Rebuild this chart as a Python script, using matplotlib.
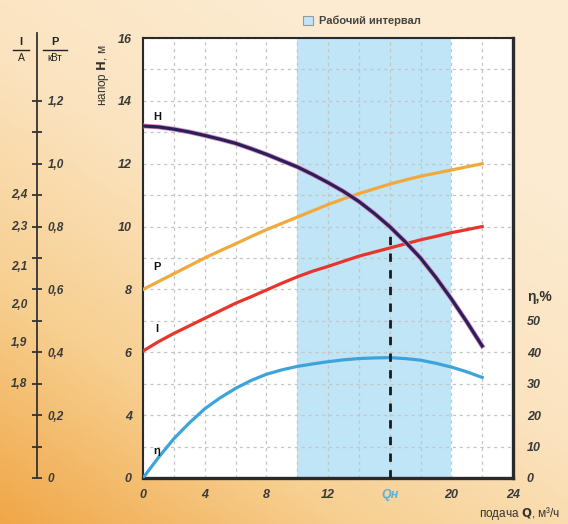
import numpy as np
import matplotlib
matplotlib.use('Agg')
import matplotlib.pyplot as plt
import matplotlib.patheffects as pe
from matplotlib.patches import Patch
from matplotlib.lines import Line2D
from matplotlib.colors import LinearSegmentedColormap

plt.rcParams['font.family'] = ['Liberation Sans', 'DejaVu Sans']

# подача Q, м3/ч
Q = list(range(0, 23))
# напор H, м
H = [13.2, 13.17, 13.1, 13.01, 12.9, 12.78, 12.65, 12.48, 12.3, 12.1, 11.9, 11.66,
     11.4, 11.12, 10.8, 10.42, 10.0, 9.52, 9.0, 8.38, 7.7, 6.97, 6.2]
# мощность P, кВт
P = [0.60, 0.625, 0.65, 0.675, 0.70, 0.723, 0.745, 0.768, 0.79, 0.81, 0.83, 0.85,
     0.87, 0.888, 0.905, 0.92, 0.935, 0.948, 0.96, 0.97, 0.98, 0.99, 1.00]
# ток I, А
I = [1.88, 1.903, 1.925, 1.945, 1.965, 1.985, 2.005, 2.022, 2.04, 2.058, 2.075, 2.09,
     2.105, 2.13, 2.155, 2.175, 2.195, 2.215, 2.235, 2.252, 2.27, 2.285, 2.30]
# КПД, %
eta = [0, 6.5, 12.5, 17.5, 22, 25.5, 28.5, 31, 33, 34.4, 35.5, 36.3,
       37, 37.6, 38, 38.2, 38.3, 38, 37.5, 36.5, 35.3, 33.8, 32]

Q_nom = 16
work_range = (10, 20)

# шкала тока нанесена неравномерно, положение меток в единицах шкалы P
I_ticks = [1.8, 1.9, 2.0, 2.1, 2.3, 2.4]
I_pos = [0.30, 0.43, 0.55, 0.67, 0.80, 0.90]

W, Hpx = 568, 524
fig = plt.figure(figsize=(W / 100, Hpx / 100), dpi=100)

# фон
bg = fig.add_axes([0, 0, 1, 1], zorder=-10)
yy, xx = np.mgrid[0:1:200j, 0:1:200j]
grad = np.clip(0.55 * xx + 0.75 * yy, 0, 1)
cmap = LinearSegmentedColormap.from_list('bg', ['#f0a748', '#f7cf90', '#fbe3bf', '#fcebd0'])
bg.imshow(grad, cmap=cmap, origin='lower', aspect='auto', extent=[0, 1, 0, 1])
bg.axis('off')

txt_col = '#3a3a3a'

# основная область
ax = fig.add_axes([143 / W, 46 / Hpx, 370 / W, 440 / Hpx])
ax.set_facecolor('white')
ax.set_xlim(0, 24)
ax.set_ylim(2, 16)
ax.axvspan(*work_range, color='#bfe5f6', zorder=0, lw=0)

ax.set_xticks(range(0, 25, 4))
ax.set_xticks(range(0, 25, 2), minor=True)
ax.set_xticklabels(['0', '4', '8', '12', 'Qн', '20', '24'])
ax.set_yticks(range(2, 17, 2))
ax.set_yticks(range(2, 17, 1), minor=True)
ax.set_yticklabels(['0', '4', '6', '8', '10', '12', '14', '16'])
ax.tick_params(which='both', length=0)
ax.tick_params(axis='x', pad=8, labelsize=9, labelcolor=txt_col)
ax.tick_params(axis='y', pad=8, labelsize=9, labelcolor=txt_col)
for t in ax.get_xticklabels() + ax.get_yticklabels():
    t.set_fontstyle('italic')
    t.set_fontweight('bold')
ax.get_xticklabels()[4].set_color('#5aaee0')
ax.grid(which='both', color='#c4c4c4', lw=0.9, ls=(0, (2.5, 3)))
ax.set_axisbelow(True)
for s in ['left', 'top']:
    ax.spines[s].set_linewidth(1.5)
    ax.spines[s].set_color('#2a2a2a')
for s in ['right', 'bottom']:
    ax.spines[s].set_linewidth(2.4)
    ax.spines[s].set_color('#2a2a2a')

# P и I
ax_p = ax.twinx()
ax_p.set_ylim(0, 1.4)
ax_p.axis('off')
ax_p.plot(Q, P, color='#f2a93b', lw=2.3)
ax_p.plot(Q, np.interp(I, I_ticks, I_pos), color='#e8352b', lw=2.3)

# КПД
ax_e = ax.twinx()
ax_e.set_ylim(0, 140)
ax_e.plot(Q, eta, color='#3ea3db', lw=2.3)
ax_e.set_yticks(range(0, 51, 10))
ax_e.tick_params(length=0, pad=10, labelsize=9, labelcolor=txt_col)
for t in ax_e.get_yticklabels():
    t.set_fontstyle('italic')
    t.set_fontweight('bold')
for s in ax_e.spines.values():
    s.set_visible(False)

# напор
ax_h = ax.twinx()
ax_h.set_ylim(2, 16)
ax_h.axis('off')
ax_h.plot([Q_nom, Q_nom], [2, np.interp(Q_nom, Q, H)], color='#1a1a1a', lw=2, ls=(0, (3, 3)))
ax_h.plot(Q, H, color='#28205a', lw=2.3,
          path_effects=[pe.Stroke(linewidth=3.5, foreground='#d98ab8'), pe.Normal()])

for lbl, yv in [('H', 13.5), ('P', 8.7), ('I', 6.75), ('η', 2.85)]:
    ax_h.text(0.9, yv, lbl, fontsize=8, fontweight='bold', color='#111111',
              ha='center', va='center')

# шкала P / I
ax_l = fig.add_axes([37 / W, 46 / Hpx, 0.0001, 445 / Hpx])
ax_l.set_facecolor('none')
ax_l.set_ylim(0, 1.4 * 445 / 440)
for s in ['right', 'top', 'bottom']:
    ax_l.spines[s].set_visible(False)
ax_l.spines['left'].set_color('#333333')
ax_l.spines['left'].set_linewidth(1.3)
ax_l.set_xticks([])
ax_l.set_yticks(np.arange(0, 1.21, 0.2))
ax_l.set_yticks(np.arange(0.1, 1.2, 0.2), minor=True)
ax_l.set_yticklabels(['0', '0,2', '0,4', '0,6', '0,8', '1,0', '1,2'])
ax_l.tick_params(which='both', direction='inout', length=7, width=1.3, color='#333333',
                 left=True, right=False, labelleft=False, labelright=True,
                 pad=4, labelsize=8.5, labelcolor=txt_col)
for t in ax_l.get_yticklabels():
    t.set_fontstyle('italic')
    t.set_fontweight('bold')
for v, pos in zip(I_ticks, I_pos):
    ax_l.annotate(f'{v:.1f}'.replace('.', ','), xy=(0, pos), xycoords=('axes fraction', 'data'),
                  xytext=(-7, 0), textcoords='offset points', ha='right', va='center',
                  fontsize=8.5, fontstyle='italic', fontweight='bold', color=txt_col)

# подписи осей
def fx(x):
    return x / W

def fy(y):
    return 1 - y / Hpx

fig.text(fx(21), fy(42), 'I', fontsize=8, fontweight='bold', ha='center', va='center', color='#222222')
fig.text(fx(21), fy(58), 'A', fontsize=7.5, ha='center', va='center', color='#222222')
fig.add_artist(Line2D([fx(13), fx(29)], [fy(50), fy(50)], color='#222222', lw=1))
fig.text(fx(55), fy(42), 'P', fontsize=8, fontweight='bold', ha='center', va='center', color='#222222')
fig.text(fx(55), fy(58), 'кВт', fontsize=7, ha='center', va='center', color='#222222')
fig.add_artist(Line2D([fx(43), fx(67)], [fy(50), fy(50)], color='#222222', lw=1))

fig.text(fx(103), fy(75), r'напор $\mathbf{H}$, м', rotation=90, fontsize=8.5,
         ha='center', va='center', color='#333333')
fig.text(fx(560), fy(513), r'подача $\mathbf{Q}$, м³/ч', fontsize=8.5,
         ha='right', va='center', color='#333333')
fig.text(fx(540), fy(297), 'η,%', fontsize=10, fontweight='bold',
         ha='center', va='center', color='#333333')

ax.legend(handles=[Patch(facecolor='#bfe5f6', edgecolor='#9a9a9a', lw=0.8)],
          labels=['Рабочий интервал'], loc='center left',
          bbox_to_anchor=(fx(293), fy(21)), bbox_transform=fig.transFigure,
          frameon=False, handlelength=0.9, handleheight=0.9, handletextpad=0.5,
          prop={'size': 8, 'weight': 'bold'}, labelcolor='#444444')

fig.savefig('out.png', dpi=100)
